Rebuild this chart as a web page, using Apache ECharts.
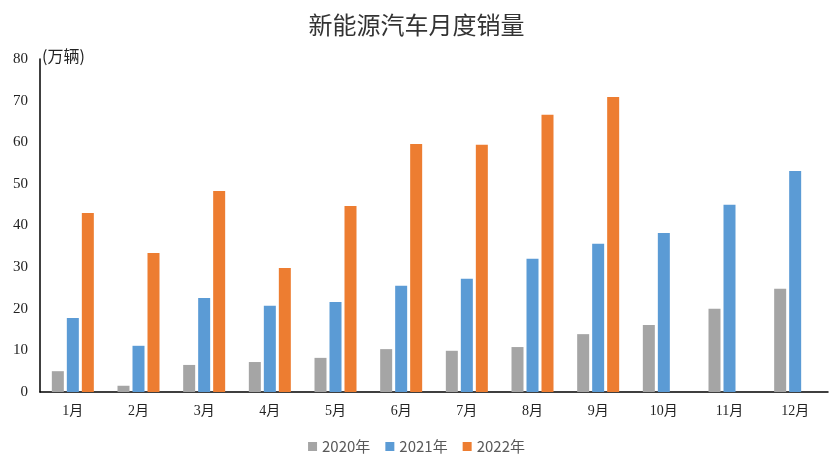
<!DOCTYPE html>
<html>
<head>
<meta charset="utf-8">
<script src="https://cdn.jsdelivr.net/npm/echarts@6/dist/echarts.min.js"></script>
<style>html,body{margin:0;padding:0;background:#fff}#c{width:833px;height:464px}</style>
</head>
<body>
<div id="c"></div>
<script>
const categories = ['1月','2月','3月','4月','5月','6月','7月','8月','9月','10月','11月','12月'];
const s2020 = [5.0, 1.5, 6.5, 7.2, 8.2, 10.3, 9.9, 10.8, 13.9, 16.1, 20.0, 24.8];
const s2021 = [17.8, 11.1, 22.6, 20.7, 21.6, 25.5, 27.2, 32.0, 35.6, 38.2, 45.0, 53.1];
const s2022 = [43.0, 33.4, 48.3, 29.8, 44.7, 59.6, 59.4, 66.6, 70.9, null, null, null];
const seriesNames = ['2020年','2021年','2022年'];
const colors = ['#a5a5a5','#5b9bd5','#ed7d31'];
const cjk = '"Noto Sans CJK SC", "Liberation Serif", serif';
const serif = '"Liberation Serif", "Noto Sans CJK SC", serif';

const chart = echarts.init(document.getElementById('c'), null, {renderer:'canvas'});
const data = [s2020, s2021, s2022];
chart.setOption({
  animation: false,
  color: colors,
  title: {
    text: '新能源汽车月度销量',
    left: 'center', top: 8,
    textStyle: {fontFamily: cjk, fontSize: 24, fontWeight: 'normal', color: '#333333'}
  },
  legend: {
    bottom: 5, left: 'center',
    itemWidth: 9, itemHeight: 9, itemGap: 15, icon: 'rect',
    textStyle: {fontFamily: cjk, fontSize: 15, color: '#595959'},
    data: seriesNames
  },
  grid: {left: 40, right: 5, top: 59, bottom: 72, containLabel: false},
  xAxis: {
    type: 'category', data: categories,
    axisLine: {lineStyle: {color: '#000', width: 1.5}},
    axisTick: {show: false},
    axisLabel: {fontFamily: serif, fontSize: 14, color: '#222', margin: 12}
  },
  yAxis: {
    type: 'value', min: 0, max: 80, interval: 10,
    name: '(万辆)',
    nameLocation: 'end',
    nameGap: 3,
    nameTextStyle: {fontFamily: cjk, fontSize: 16, color: '#222', align: 'left', verticalAlign: 'middle', padding: [0,0,0,2]},
    axisLine: {show: true, lineStyle: {color: '#000', width: 1.5}},
    axisTick: {show: false},
    splitLine: {show: false},
    axisLabel: {fontFamily: serif, fontSize: 15, color: '#222', margin: 12}
  },
  series: data.map((d, i) => ({
    name: seriesNames[i], type: 'bar', data: d,
    barWidth: 12, barGap: '25%', barCategoryGap: '30%'
  }))
});
</script>
</body>
</html>
